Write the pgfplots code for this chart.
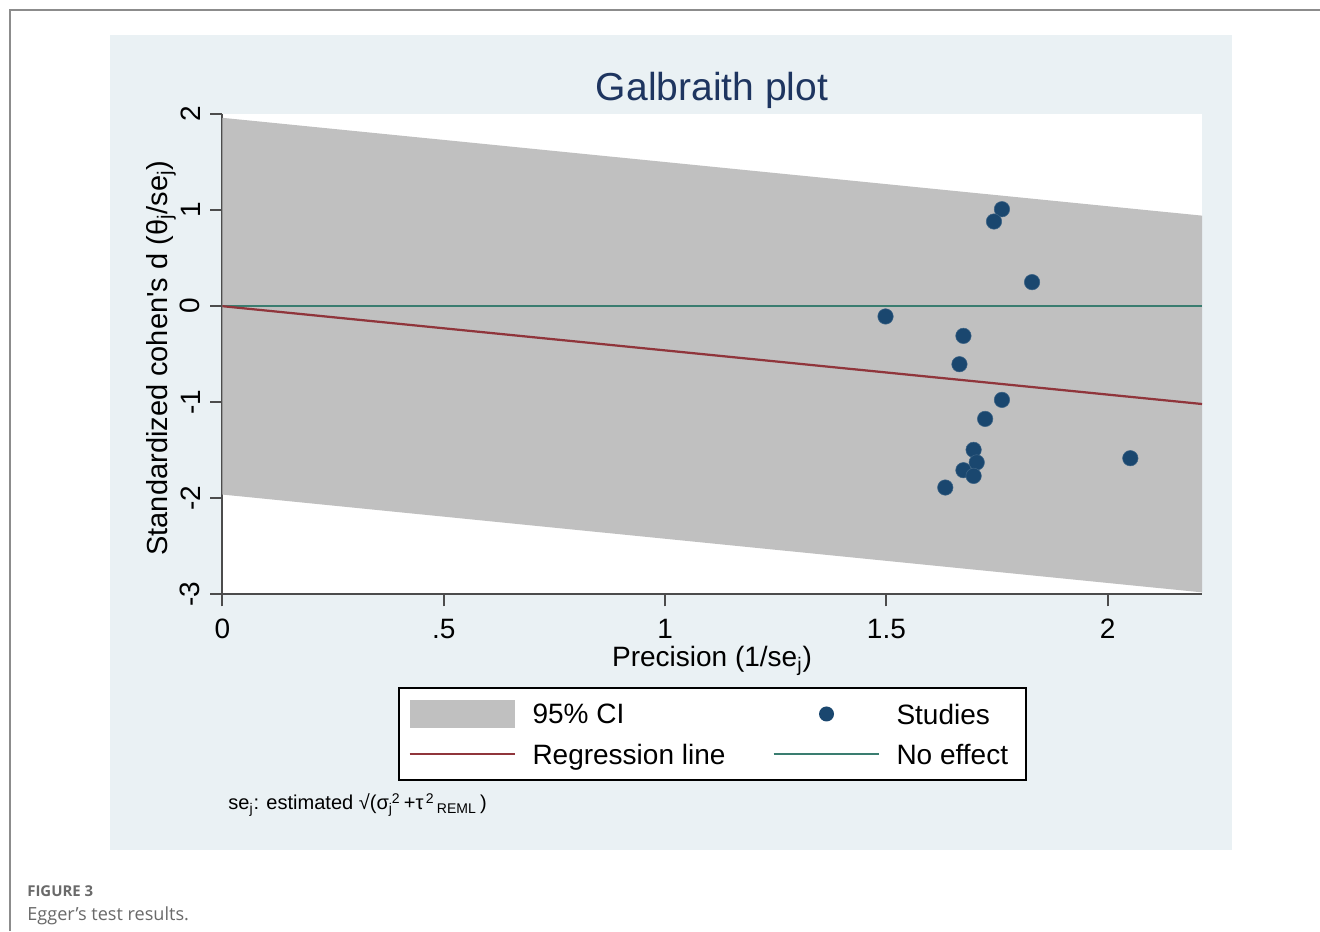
\documentclass[border=0pt]{standalone}
\usepackage{pgfplots}
\pgfplotsset{compat=1.18}
\usepackage{fontspec}
\setmainfont{Liberation Sans}
\newfontfamily\capfont{Open Sans}
\definecolor{panel}{HTML}{EAF1F4}
\definecolor{band}{HTML}{C0C0C0}
\definecolor{stnavy}{HTML}{1A476F}
\definecolor{stmaroon}{HTML}{90353B}
\definecolor{stteal}{HTML}{3A7D70}
\definecolor{ttl}{HTML}{1E3560}
\definecolor{capgray}{HTML}{6A6A6A}
\newcommand\lbl{\fontsize{15.93pt}{18pt}\selectfont}
\pgfplotstableread{
x y
1.761 1.009
1.743 0.881
1.829 0.250
1.498 -0.107
1.674 -0.309
1.665 -0.604
1.761 -0.975
1.723 -1.173
1.697 -1.495
1.704 -1.626
1.674 -1.707
1.697 -1.766
1.633 -1.887
2.051 -1.582
}\studies
\begin{document}
\begin{tikzpicture}[x=0.2mm,y=0.2mm]
\path[use as bounding box, fill=white] (0,0) rectangle (1320,931);
\draw[color=black!45, line width=0.25mm] (10,0) -- (10,921) -- (1320,921);
\fill[panel] (110,81) rectangle (1232,896);
\begin{axis}[
  at={(44.48mm,67.3mm)}, anchor=south west,
  scale only axis, width=195.92mm, height=96.1mm,
  xmin=0, xmax=2.213, ymin=-3, ymax=2,
  axis lines*=left,
  axis background/.style={fill=white},
  axis line style={draw=black!70, line width=0.4mm},
  tick style={draw=black!70, line width=0.4mm},
  tick align=outside, major tick length=2.4mm,
  xtick={0,0.5,1,1.5,2}, xticklabels={0,.5,1,1.5,2},
  ytick={-3,-2,-1,0,1,2}, yticklabels={-3,-2,-1,0,1,2},
  ticklabel style={font=\lbl, inner sep=0pt},
  yticklabel style={rotate=90, anchor=south},
  xticklabel style={anchor=north},
  xticklabel shift=2.4mm,
  yticklabel shift=2.0mm,
  legend columns=2,
  legend cell align=left,
  legend style={at={(0.17926,-0.1925)}, anchor=north west,
    draw=black, line width=0.4mm, fill=white,
    inner xsep=1.9mm, inner ysep=1.2mm,
    nodes={inner sep=0pt, text depth=0pt, font=\lbl, draw=none, fill=none},
    column sep=0pt, row sep=0pt},
]
\addplot[fill=band, draw=none, forget plot] coordinates {(0,1.96) (2.213,0.94202) (2.213,-2.97798) (0,-1.96)};
\addplot[stteal, line width=0.45mm, forget plot] coordinates {(0,0) (2.213,0)};
\addplot[stmaroon, line width=0.45mm, forget plot] coordinates {(0,0) (2.213,-1.018)};
\addplot[only marks, mark=*, mark size=4.4pt, mark options={fill=stnavy, draw=stnavy!85!white, line width=0.3pt}, forget plot] table {\studies};
\addlegendimage{legend image code/.code={\path[draw=none,fill=none] (0,-4mm) rectangle (24.6mm,4mm); \fill[band, draw=none] (0,-2.8mm) rectangle (21mm,2.8mm);}}
\addlegendentry{\makebox[48mm][l]{95\% CI}}
\addlegendimage{legend image code/.code={\path[draw=none,fill=none] (0,-4mm) rectangle (24.6mm,4mm); \fill[stnavy, draw=none] (10.6mm,0) circle (1.5mm);}}
\addlegendentry{\makebox[24mm][l]{Studies}}
\addlegendimage{legend image code/.code={\path[draw=none,fill=none] (0,-4mm) rectangle (24.6mm,4mm); \draw[stmaroon, line width=0.4mm] (0,0) -- (21mm,0);}}
\addlegendentry{\makebox[48mm][l]{Regression line}}
\addlegendimage{legend image code/.code={\path[draw=none,fill=none] (0,-4mm) rectangle (24.6mm,4mm); \draw[stteal, line width=0.4mm] (0,0) -- (21mm,0);}}
\addlegendentry{\makebox[24mm][l]{No effect}}
\end{axis}
\node[anchor=base, text=ttl, font=\fontsize{22.2pt}{26pt}\selectfont, inner sep=0pt] at (712,830) {Galbraith plot};
\node[anchor=base, font=\lbl, inner sep=0pt] at (712,264) {Precision (1/se\textsubscript{j})};
\node[anchor=base, rotate=90, font=\fontsize{16.5pt}{19pt}\selectfont, inner sep=0pt] at (167,573) {Standardized cohen\textquotesingle s d (θ\textsubscript{j}/se\textsubscript{j})};
\node[anchor=base west, font=\fontsize{11.4pt}{13pt}\selectfont, inner sep=0pt] at (228,121) {se\textsubscript{j}: estimated √(σ\textsubscript{j}\kern-0.05em\textsuperscript{2}\,+τ\textsuperscript{\,2}\textsubscript{\,REML}\,)};
\node[anchor=base west, font=\capfont\bfseries\fontsize{8.5pt}{10pt}\selectfont, text=capgray, inner sep=0pt] at (27,34) {FIGURE 3};
\node[anchor=base west, font=\capfont\fontsize{10.3pt}{12pt}\selectfont, text=capgray, inner sep=0pt] at (27,11) {Egger’s test results.};
\end{tikzpicture}
\end{document}
